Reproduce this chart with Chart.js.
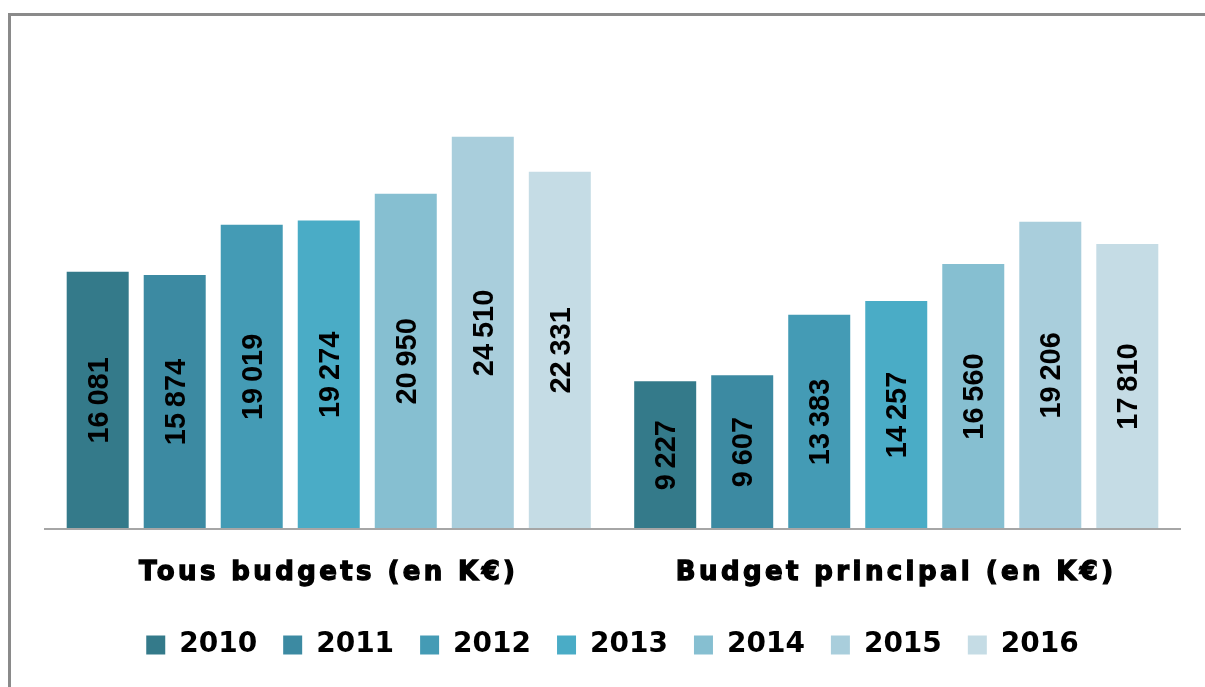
<!DOCTYPE html>
<html lang="fr">
<head>
<meta charset="utf-8">
<title>Budgets</title>
<script src="https://cdn.jsdelivr.net/npm/chart.js@4.4.1/dist/chart.umd.min.js"></script>
<style>
  html, body { margin: 0; padding: 0; background: #fff; overflow: hidden; }
  #cadre {
    position: absolute; left: 8px; top: 13px; width: 3000px; height: 3000px;
    border-top: 3px solid #8a8a8a; border-left: 3px solid #8a8a8a;
  }
  #budgets { position: absolute; left: 0; top: 0; }
</style>
</head>
<body>
<div id="cadre"></div>
<canvas id="budgets" width="1205" height="687"></canvas>
<script>
const categories = ["Tous budgets (en K€)", "Budget principal (en K€)"];
const years = ["2010", "2011", "2012", "2013", "2014", "2015", "2016"];
const tousBudgets = [16081, 15874, 19019, 19274, 20950, 24510, 22331];
const budgetPrincipal = [9227, 9607, 13383, 14257, 16560, 19206, 17810];
const colors = ["#347a8a", "#3c8aa2", "#449bb5", "#4aacc6", "#86bfd1", "#a9cedc", "#c5dce5"];

// 16081 -> "16 081" avec espace fine
function formatNombre(v) {
  return String(v).replace(/\B(?=(\d{3})+(?!\d))/g, "\u2009");
}

const datasets = years.map((year, i) => ({
  label: year,
  data: [tousBudgets[i], budgetPrincipal[i]],
  backgroundColor: colors[i],
  borderWidth: 0,
  categoryPercentage: 0.95,
  barPercentage: 0.805,
}));

// valeurs verticales au centre des barres
const barLabels = {
  id: "barLabels",
  afterDatasetsDraw(chart) {
    const ctx = chart.ctx;
    ctx.save();
    ctx.font = "bold 29px 'Liberation Sans', Arial, sans-serif";
    ctx.fillStyle = "#000";
    ctx.textAlign = "center";
    ctx.textBaseline = "middle";
    chart.data.datasets.forEach((ds, i) => {
      chart.getDatasetMeta(i).data.forEach((bar, j) => {
        const { x, y, base } = bar.getProps(["x", "y", "base"], true);
        ctx.save();
        ctx.translate(x + 1, (y + base) / 2);
        ctx.rotate(-Math.PI / 2);
        ctx.fillText(formatNombre(ds.data[j]), 0, 1);
        ctx.restore();
      });
    });
    ctx.restore();
    // libellés de catégories plus larges
    ctx.letterSpacing = "3.4px";
  },
  afterDraw(chart) {
    chart.ctx.letterSpacing = "0px";
  },
};

new Chart(document.getElementById("budgets"), {
  type: "bar",
  data: { labels: categories, datasets: datasets },
  plugins: [barLabels],
  options: {
    responsive: false,
    animation: false,
    devicePixelRatio: 1,
    layout: { padding: { top: 49, left: 45, right: 25, bottom: 18 } },
    plugins: {
      tooltip: { enabled: false },
      legend: {
        position: "bottom",
        labels: {
          boxWidth: 19,
          boxHeight: 19,
          padding: 26,
          color: "#000",
          font: { family: "'DejaVu Sans', sans-serif", size: 28, weight: "bold" },
        },
      },
    },
    scales: {
      x: {
        grid: { display: false, drawTicks: false },
        border: { display: true, color: "#a6a6a6", width: 2, z: 1 },
        afterFit(scale) {
          scale.height = 76;
        },
        ticks: {
          z: 1,
          padding: 32,
          color: "#000",
          textStrokeColor: "#000",
          textStrokeWidth: 1.3,
          autoSkip: false,
          maxRotation: 0,
          font: { family: "'DejaVu Sans', sans-serif", size: 26, weight: "bold", lineHeight: 0.923 },
        },
      },
      y: {
        display: false,
        min: 0,
        max: 30000,
      },
    },
  },
});
</script>
</body>
</html>
